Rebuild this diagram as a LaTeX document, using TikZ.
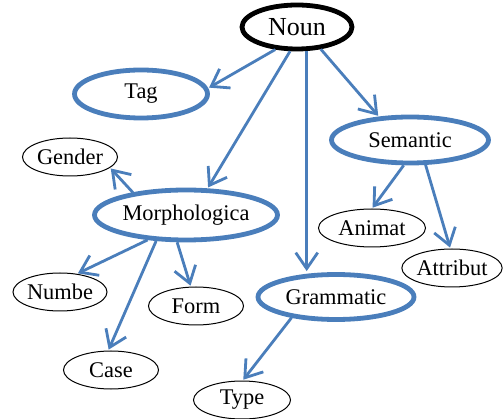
\documentclass[tikz,border=0pt]{standalone}
\usepackage{fontspec}
\setmainfont{Liberation Serif}
\usepackage{tikz}
\usetikzlibrary{shapes.geometric}
\usetikzlibrary{arrows.meta}
\definecolor{linkblue}{RGB}{74,126,187}
\tikzset{main/.style={ellipse, draw=linkblue, line width=4.8pt, inner sep=0pt, minimum height=46pt, font=\fontsize{22.4}{26}\selectfont},
%thin black ellipses for the leaves
leaf/.style={ellipse, draw=black, line width=1pt, inner sep=0pt, minimum height=38pt, font=\fontsize{22.4}{26}\selectfont},
link/.style={draw=linkblue, line width=2.8pt, shorten >=1pt, -{Straight Barb[length=16pt,width=22pt]}}}

\begin{document}
\begin{tikzpicture}[x=1pt,y=-1pt]
\useasboundingbox (0,0) rectangle (503,419);
% root
\node[ellipse, draw=black, line width=4.8pt, inner sep=0pt, minimum width=110pt, minimum height=44pt, font=\fontsize{26}{30}\selectfont] (noun) at (297,27) {Noun};

% blue ellipses
\node[main, minimum width=133pt, minimum height=48pt] (tag) at (141,94) {Tag};
\node[main, minimum width=183pt, minimum height=50pt] (morph) at (186,215) {Morphologica};
\node[main, minimum width=157pt] (sem) at (410,140) {Semantic};
\node[main, minimum width=156pt, minimum height=45pt] (gram) at (336,297) {Grammatic};

%leaves
\foreach \nm/\x/\y/\w/\txt in {gender/70/157/95/Gender, numbe/60/292/94/Numbe, form/196/306/95/Form, case/111/370/95/Case, animat/372/228/107/Animat, attrib/452/268/95/Attribut, type/242/400/97/Type}
     \node[leaf, minimum width=\w pt] (\nm) at (\x,\y) {\txt};

%arrows
\foreach \a/\sa/\b/\ta in {noun/226/tag/5, noun/254/morph/51, noun/317/sem/143, morph/157/gender/345, morph/213/numbe/47, morph/221/case/98, morph/252/form/105, sem/256/animat/90, sem/302/attrib/95, gram/205/type/88}
     \draw[link] (\a.\sa) -- (\b.\ta);
\draw[link] (noun.292) -- (noun.292 |- gram.north);

\end{tikzpicture}
\end{document}
